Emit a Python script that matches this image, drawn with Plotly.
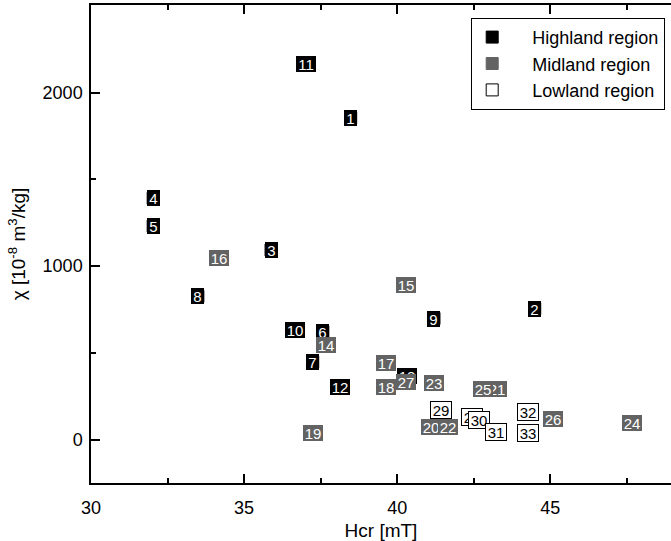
import plotly.graph_objects as go

# ---- data ----
high_ids = ["1", "2", "3", "4", "5", "6", "7", "8", "9", "10", "11", "12", "13"]
high_x = [38.48, 44.49, 35.88, 32.03, 32.03, 37.57, 37.24, 33.49, 41.20, 36.67, 37.01, 38.14, 40.33]
high_y = [1854, 755, 1093, 1391, 1231, 622, 447, 826, 698, 633, 2163, 303, 367]

mid_ids = ["14", "15", "16", "17", "18", "19", "20", "21", "22", "23", "24", "25", "26", "27"]
mid_x = [37.68, 40.30, 34.18, 39.64, 39.64, 37.24, 41.11, 43.25, 41.65, 41.19, 47.67, 42.81, 45.08, 40.29]
mid_y = [545, 893, 1047, 442, 303, 36, 73, 289, 73, 326, 93, 289, 119, 335]

low_ids = ["28", "29", "30", "31", "32", "33"]
low_x = [42.43, 41.44, 42.68, 43.24, 44.26, 44.26]
low_y = [131, 168, 113, 44, 157, 39]

series = [
    ("Highland region", high_ids, high_x, high_y, "#000000", "#000000", "#ffffff", 0),
    ("Midland region", mid_ids, mid_x, mid_y, "#636363", "#636363", "#ffffff", 0),
    ("Lowland region", low_ids, low_x, low_y, "#ffffff", "#000000", "#000000", 1),
]

FONT = "Liberation Sans, Arial, sans-serif"
PAD = "\u00a0\u00a0\u00a0\u00a0"

fig = go.Figure()
annotations = []
for name, ids, xs, ys, fill, edge, txtcol, bw in series:
    fig.add_trace(go.Scatter(
        x=xs, y=ys, mode="markers", name=PAD + name,
        marker=dict(symbol="square", size=12, color=fill,
                    line=dict(color=edge, width=1)),
        hoverinfo="skip",
    ))
    for lab, xv, yv in zip(ids, xs, ys):
        annotations.append(dict(
            x=xv, y=yv, xref="x", yref="y", text=lab, showarrow=False,
            font=dict(family=FONT, size=15, color=txtcol),
            bgcolor=fill, bordercolor=edge, borderwidth=bw, borderpad=0,
            width=13 if len(lab) == 1 else 20, height=16,
            xanchor="center", yanchor="middle",
        ))

fig.update_layout(
    width=671, height=541,
    margin=dict(l=91, r=0, t=5, b=58),
    paper_bgcolor="white", plot_bgcolor="white",
    font=dict(family=FONT, size=18, color="#000000"),
    showlegend=True,
    legend=dict(
        x=0.99, y=0.973, xanchor="right", yanchor="top",
        bgcolor="white", bordercolor="#000000", borderwidth=1,
        font=dict(family=FONT, size=18), itemwidth=30,
        tracegroupgap=0,
    ),
    annotations=annotations,
)

fig.update_xaxes(
    range=[30, 48.94], showgrid=False, zeroline=False,
    showline=True, linecolor="#000000", linewidth=1.5, mirror="ticks",
    ticks="inside", ticklen=9, tickwidth=1.5, tickcolor="#000000",
    tick0=30, dtick=5, ticklabelstandoff=8,
    minor=dict(ticks="inside", ticklen=5, tickwidth=1.5, tickcolor="#000000", dtick=2.5, tick0=30),
    tickfont=dict(family=FONT, size=18),
    title=dict(text="Hcr [mT]", font=dict(family=FONT, size=19), standoff=8),
)
fig.update_yaxes(
    range=[-250, 2505], showgrid=False, zeroline=False,
    showline=True, linecolor="#000000", linewidth=1.5, mirror=False,
    ticks="inside", ticklen=9, tickwidth=1.5, tickcolor="#000000",
    tick0=0, dtick=1000, ticklabelstandoff=3,
    minor=dict(ticks="inside", ticklen=5, tickwidth=1.5, tickcolor="#000000", dtick=500, tick0=0),
    tickfont=dict(family=FONT, size=18),
    title=dict(text="χ [10<sup>-8</sup> m<sup>3</sup>/kg]", font=dict(family=FONT, size=19), standoff=12),
)

fig.write_html("out.html")
